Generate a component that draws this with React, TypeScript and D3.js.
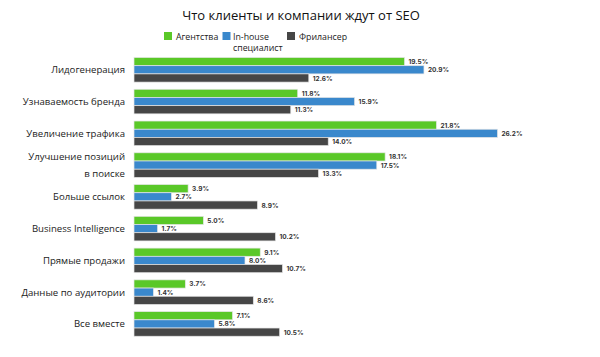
import React from "react";
import * as d3 from "d3";

const categories: string[][] = [
  ["Лидогенерация"],
  ["Узнаваемость бренда"],
  ["Увеличение трафика"],
  ["Улучшение позиций", "в поиске"],
  ["Больше ссылок"],
  ["Business Intelligence"],
  ["Прямые продажи"],
  ["Данные по аудитории"],
  ["Все вместе"],
];
const seriesNames = ["Агентства", "In-house специалист", "Фрилансер"];
const agencies = [19.5, 11.8, 21.8, 18.1, 3.9, 5.0, 9.1, 3.7, 7.1];
const inhouse = [20.9, 15.9, 26.2, 17.5, 2.7, 1.7, 8.0, 1.4, 5.8];
const freelancers = [12.6, 11.3, 14.0, 13.3, 8.9, 10.2, 10.7, 8.6, 10.5];
const colors = ["#5ac828", "#3a88cc", "#464646"];

export default function App() {
  const W = 600, H = 357;
  const x0 = 134;
  const x = d3.scaleLinear().domain([0, 26.2]).range([x0, 497.5]);
  const y = d3
    .scaleBand<number>()
    .domain(d3.range(categories.length))
    .range([57.5, 57.5 + 31.06 * 9])
    .paddingInner(0.2)
    .paddingOuter(0);
  const inner = d3.scaleBand<number>().domain([0, 1, 2]).range([0, 24.6]);
  const series = [agencies, inhouse, freelancers];
  const sans = "'Open Sans', 'Noto Sans', sans-serif";

  return (
    <svg width={W} height={H} style={{ position: "absolute", left: 0, top: 0, background: "#fff" }}>
      <text x={301} y={20} textAnchor="middle" fontFamily={sans} fontSize={13} fill="#111">
        Что клиенты и компании ждут от SEO
      </text>
      {/* legend */}
      <g fontFamily={sans} fontSize={8.8} fill="#222">
        <rect x={164} y={32} width={8} height={8} fill={colors[0]} />
        <text x={176} y={39.5}>{seriesNames[0]}</text>
        <rect x={222.5} y={32} width={8} height={8} fill={colors[1]} />
        <text x={233} y={39.5}>In-house</text>
        <text x={233} y={51}>специалист</text>
        <rect x={287} y={32} width={8} height={8} fill={colors[2]} />
        <text x={299} y={39.5}>{seriesNames[2]}</text>
      </g>
      {categories.map((lines, i) => {
        const y0 = y(i)!;
        const cy = y0 + 12.3;
        return (
          <g key={i}>
            <text
              x={125}
              textAnchor="end"
              fontFamily={sans}
              fontSize={9.6}
              fill="#222"
            >
              {lines.map((l, k) => (
                <tspan key={k} x={125} y={cy + 3.5 + (k - (lines.length - 1) / 2) * 17}>
                  {l}
                </tspan>
              ))}
            </text>
            {series.map((s, j) => {
              const by = y0 + inner(j)!;
              const bh = inner.bandwidth();
              return (
                <g key={j}>
                  <rect
                    x={x0}
                    y={by}
                    width={x(s[i]) - x0}
                    height={bh}
                    fill={colors[j]}
                    stroke="#e6e6e6"
                    strokeWidth={0.7}
                  />
                  <text
                    x={x(s[i]) + 4}
                    y={by + bh / 2 + 2.5}
                    fontFamily="Inter, 'DejaVu Sans', sans-serif"
                    fontWeight={700}
                    fontSize={6.5}
                    fill="#333"
                  >
                    {s[i].toFixed(1)}%
                  </text>
                </g>
              );
            })}
          </g>
        );
      })}
    </svg>
  );
}
